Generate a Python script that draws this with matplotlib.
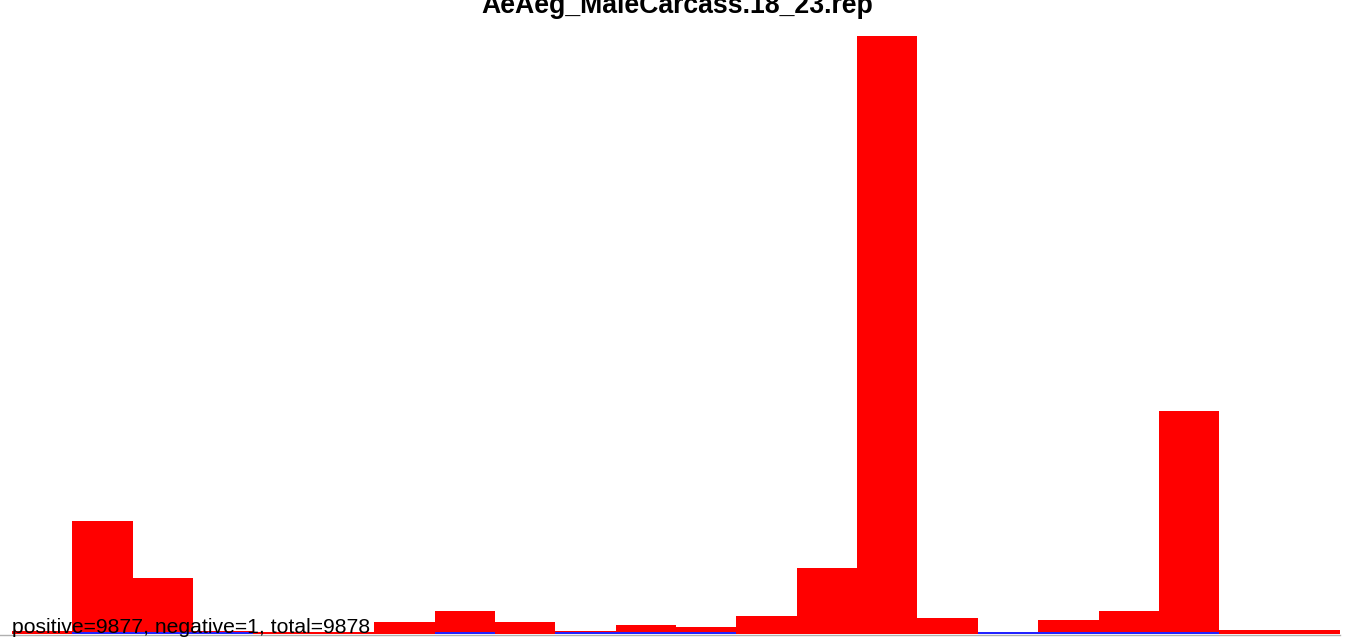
import matplotlib
matplotlib.use("Agg")
import matplotlib.pyplot as plt
import numpy as np

# bar heights (arbitrary units)
red_values = [2, 112, 55, 2, 1.5, 1.5, 11, 22, 11, 2, 8, 6, 17, 65, 597, 15, 1.5, 13, 22, 222, 3, 3]
blue_values = [0, 1.5, 1.5, 1.5, 0, 0, 0, 1.5, 0, 1.5, 1.5, 1.5, 0, 0, 0, 0, 1.5, 1.5, 1.5, 1.5, 0, 0]
title = "AeAeg_MaleCarcass.18_23.rep"
summary = "positive=9877, negative=1, total=9878"

W, H = 1352, 640
fig = plt.figure(figsize=(W / 100, H / 100), dpi=100)
left_px, right_px = 12, 1340
base_px, top_px = 633.5, 36
ax = fig.add_axes([left_px / W, (H - base_px) / H, (right_px - left_px) / W, (base_px - top_px) / H])

n = len(red_values)
x = np.arange(n)
ax.bar(x, red_values, width=1.0, align="edge", color="#ff0000", linewidth=0, zorder=2)
ax.bar(x, blue_values, width=1.0, align="edge", color="#2222ff", linewidth=0, zorder=3)
ax.set_xlim(0, n)
ax.set_ylim(0, max(red_values))
ax.axis("off")

# grey baseline
fig.add_artist(plt.Line2D([0, right_px / W], [(H - 634.5) / H] * 2, color="#b0b0b0", lw=1.0, zorder=1))

fig.text(677 / W, 1 - 13 / H, title, ha="center", va="baseline", fontsize=19.2,
         fontweight="bold", family="Liberation Sans")
fig.text(12 / W, (H - 633) / H, summary, ha="left", va="baseline", fontsize=15.2,
         family="Liberation Sans", color="black")

fig.savefig("out.png", dpi=100)
